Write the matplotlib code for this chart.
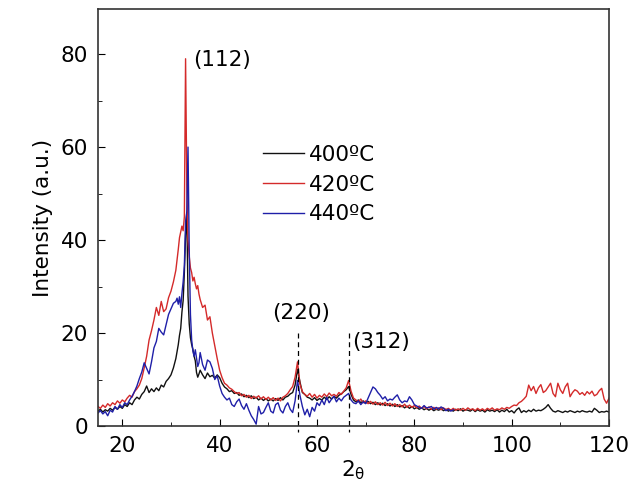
import numpy as np
import matplotlib
matplotlib.use('Agg')
import matplotlib.pyplot as plt
from matplotlib.ticker import MultipleLocator

# 2theta grid: coarse, fine around the (112) peak, coarse again
tt_a = np.arange(15, 31, 0.5)
tt_b = np.arange(31, 36, 0.25)
tt_c = np.arange(36, 120.01, 0.5)
tt_c_blue = np.arange(36, 88.01, 0.5)

# 400 C
black_a = [3.2, 3.6, 3.0, 3.5, 3.2, 3.8, 3.4, 4.0, 3.6, 4.2,
           3.8, 4.6, 4.2, 5.0, 4.6, 5.6, 6.2, 5.8, 6.8, 7.4,
           8.6, 7.2, 8.0, 7.4, 8.2, 7.6, 8.8, 8.4, 9.6, 10.2,
           11.0, 12.5]
black_b = [14.5, 16.0, 17.5, 19.5, 21.0, 24.5, 27.0, 33.0, 41.0, 46.0,
           28.0, 22.0, 19.0, 17.5, 16.5, 15.0, 14.0, 11.5, 10.5, 11.2]
black_c = [12.0, 11.0, 10.2, 11.4, 10.6, 10.9, 10.3, 11.0, 10.4, 9.2,
           8.4, 8.0, 7.4, 7.6, 7.0, 7.2, 6.6, 6.9, 6.3, 6.6,
           6.1, 6.5, 5.9, 6.2, 5.6, 6.0, 5.5, 5.9, 5.4, 5.8,
           5.4, 5.9, 5.5, 6.1, 5.6, 6.2, 6.4, 6.9, 7.2, 8.8,
           12.2, 9.5, 7.2, 6.8, 6.2, 6.0, 5.6, 6.1, 5.5, 5.9,
           5.6, 6.2, 5.7, 6.3, 5.8, 6.4, 6.0, 6.6, 6.9, 7.4,
           7.8, 8.5, 6.8, 5.6, 5.2, 5.6, 5.0, 5.4, 4.9, 5.3,
           4.8, 5.1, 4.6, 5.0, 4.5, 4.9, 4.4, 4.8, 4.3, 4.7,
           4.2, 4.6, 4.1, 4.4, 3.9, 4.3, 3.8, 4.2, 3.7, 4.0,
           3.6, 3.9, 3.5, 3.8, 3.4, 3.7, 3.3, 3.6, 3.4, 3.7,
           3.3, 3.6, 3.2, 3.5, 3.2, 3.6, 3.3, 3.7, 3.2, 3.5,
           3.4, 3.2, 3.6, 3.1, 3.5, 3.2, 3.4, 3.0, 3.5, 3.2,
           3.4, 3.1, 3.5, 3.0, 3.4, 3.1, 3.6, 3.0, 3.3, 2.8,
           3.5, 3.9, 2.9, 3.3, 3.0, 3.4, 3.1, 3.6, 3.2, 3.4,
           3.3, 3.6, 4.0, 4.6, 3.8, 3.2, 3.0, 3.3, 3.1, 2.9,
           3.2, 3.0, 3.3, 3.1, 2.9, 3.2, 3.0, 3.3, 3.1, 3.0,
           3.2, 3.0, 3.8, 3.4, 2.9, 3.1, 3.0, 3.2, 3.0]

# 420 C
red_a = [4.2, 3.8, 4.5, 4.0, 4.8, 4.3, 5.0, 4.6, 5.4, 4.9,
         5.6, 5.2, 6.0, 6.6, 6.2, 7.4, 8.0, 8.8, 10.2, 12.5,
         15.0, 18.5, 20.5, 22.8, 25.5, 23.8, 26.8, 24.6, 25.2, 27.6,
         29.0, 31.0]
red_b = [33.5, 35.7, 38.0, 40.5, 41.8, 43.0, 42.0, 45.0, 79.0, 52.0,
         40.0, 36.5, 34.0, 33.0, 31.2, 32.0, 30.6, 29.5, 30.2, 28.4]
red_c = [27.2, 25.5, 26.0, 22.8, 23.5, 20.0, 17.2, 14.5, 12.0, 10.4,
         9.2, 8.8, 8.2, 7.9, 7.4, 7.0, 7.2, 6.5, 6.8, 6.2,
         6.6, 5.9, 6.4, 6.0, 6.5, 5.8, 6.3, 5.7, 6.2, 5.6,
         6.1, 5.5, 6.0, 5.4, 6.2, 6.5, 7.0, 7.8, 8.5, 10.5,
         13.8, 9.0, 7.4, 6.8, 6.4, 7.0, 6.2, 6.8, 6.0, 6.6,
         6.2, 6.9, 6.3, 7.1, 6.5, 6.8, 6.4, 7.2, 6.8, 7.5,
         8.2, 9.8, 7.5, 6.0, 5.6, 5.2, 5.8, 5.0, 5.4, 4.8,
         5.3, 4.7, 5.2, 4.6, 5.0, 4.5, 5.1, 4.4, 4.9, 4.3,
         4.8, 4.2, 4.6, 4.1, 4.7, 4.0, 4.5, 4.0, 4.4, 3.9,
         4.3, 3.8, 4.2, 3.7, 4.1, 3.6, 4.0, 3.6, 3.9, 3.5,
         3.9, 3.5, 3.8, 3.4, 3.8, 3.4, 3.7, 3.4, 3.8, 3.4,
         3.9, 3.5, 3.7, 3.3, 3.8, 3.4, 3.7, 3.3, 3.8, 3.5,
         3.9, 3.4, 3.7, 3.5, 3.9, 3.6, 4.0, 3.8, 4.2, 4.5,
         4.4, 5.0, 5.3, 5.8, 6.4, 8.8, 7.6, 8.5, 7.0, 8.2,
         8.9, 7.2, 7.6, 8.4, 9.2, 7.0, 6.3, 9.2, 7.8, 7.0,
         8.4, 9.2, 6.3, 7.2, 7.8, 7.5, 6.8, 7.2, 6.6, 7.4,
         6.9, 7.5, 6.5, 6.8, 7.6, 8.1, 5.8, 4.9, 6.0]

# 440 C (scan stops near 88)
blue_a = [2.8, 3.3, 2.6, 3.1, 2.2, 3.4, 3.0, 4.2, 3.6, 4.6,
          4.0, 5.0, 4.6, 5.6, 6.4, 7.4, 8.6, 10.2, 11.6, 13.6,
          12.4, 11.2, 13.8, 16.8, 18.2, 21.0, 20.2, 19.6, 21.8, 24.0,
          25.2, 26.4]
blue_b = [26.8, 27.5, 26.2, 27.8, 25.5, 28.5, 31.0, 34.5, 44.0, 46.0,
          60.0, 38.0, 24.0, 18.5, 16.2, 15.0, 16.4, 14.6, 12.8, 13.6]
blue_c = [15.8, 13.2, 12.0, 14.2, 13.8, 12.4, 10.0, 10.8, 8.6, 7.0,
          6.2, 5.6, 6.0, 4.6, 4.2, 5.2, 5.8, 4.4, 3.6, 4.8,
          3.4, 2.2, 1.4, 0.4, 4.2, 2.6, 2.9, 4.0, 5.0, 3.2,
          2.8, 4.6, 5.0, 3.4, 2.8, 4.2, 5.0, 3.6, 2.9, 5.4,
          9.8, 6.6, 4.2, 2.4, 3.6, 2.0, 4.0, 3.2, 5.0, 4.4,
          5.6, 4.6, 6.2, 5.0, 5.8, 6.4, 5.2, 6.0, 5.4, 6.2,
          6.6, 7.0, 5.6, 5.0, 4.8, 5.4, 4.6, 5.2, 4.8, 6.0,
          7.2, 8.4, 8.0, 7.2, 6.6, 5.8, 6.3, 5.4, 5.8, 5.6,
          6.2, 6.7, 5.6, 5.0, 5.4, 5.2, 6.3, 5.6, 4.6, 4.3,
          4.0, 3.8, 4.4, 3.9, 4.0, 4.2, 3.6, 4.0, 3.7, 4.1,
          3.8, 3.3, 3.6, 3.2, 3.5]

labels = ['400ºC', '420ºC', '440ºC']
colors = ['#111111', '#d42a2a', '#1f1fa8']

# reflections
peak_names = ['(112)', '(220)', '(312)']
peak_pos = [33.0, 56.0, 66.6]

plt.rcParams['font.size'] = 15.5
plt.rcParams['mathtext.default'] = 'regular'

fig = plt.figure(figsize=(6.42, 4.90), dpi=100)
ax = fig.add_axes([0.1526, 0.1306, 0.796, 0.851])

tt_full = np.concatenate([tt_a, tt_b, tt_c])
tt_blue = np.concatenate([tt_a, tt_b, tt_c_blue])
ax.plot(tt_full, black_a + black_b + black_c, color=colors[0], lw=1.0, label=labels[0])
ax.plot(tt_full, red_a + red_b + red_c, color=colors[1], lw=1.0, label=labels[1])
ax.plot(tt_blue, blue_a + blue_b + blue_c, color=colors[2], lw=1.0, label=labels[2])

# dashed markers for the minor reflections
for p in peak_pos[1:]:
    ax.plot([p, p], [20, -1.3], color='k', ls=(0, (4, 3)), lw=0.9, clip_on=False)

ax.text(34.6, 78.7, peak_names[0], ha='left', va='center')
ax.text(50.7, 24.3, peak_names[1], ha='left', va='center')
ax.text(67.2, 18.0, peak_names[2], ha='left', va='center')

ax.set_xlim(15, 120)
ax.set_ylim(0, 89.7)
ax.xaxis.set_major_locator(MultipleLocator(20))
ax.xaxis.set_minor_locator(MultipleLocator(10))
ax.yaxis.set_major_locator(MultipleLocator(20))
ax.yaxis.set_minor_locator(MultipleLocator(10))
ax.tick_params(which='both', direction='in', top=False, right=False)
ax.tick_params(which='major', length=5, pad=7)
ax.tick_params(which='minor', length=3)
for s in ax.spines.values():
    s.set_linewidth(1.2)
    s.set_color('#333333')

ax.set_ylabel('Intensity (a.u.)', labelpad=6)
ax.set_xlabel('2$_θ$', labelpad=2)

ax.legend(loc='upper left', bbox_to_anchor=(0.323, 0.674), frameon=False,
          handlelength=1.9, handletextpad=0.25, labelspacing=0.45,
          borderpad=0, borderaxespad=0)

plt.savefig('out.png', dpi=100)
